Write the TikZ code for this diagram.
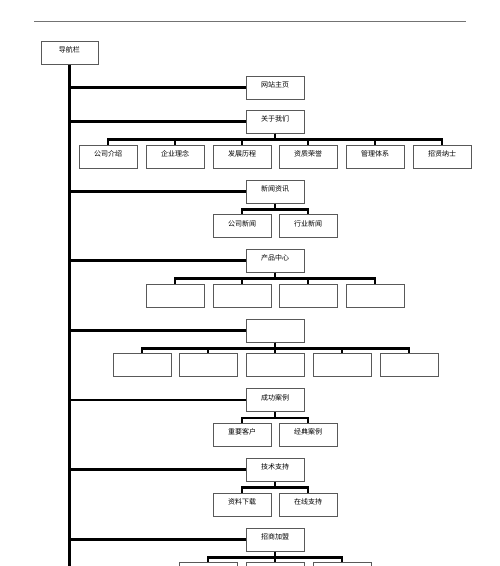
\documentclass[tikz,border=0pt]{standalone}
\usepackage{fontspec}
\newfontfamily\cjk{Noto Sans CJK SC}
\usetikzlibrary{positioning}
\tikzset{
  navbox/.style={draw=black!65, line width=1pt, minimum width=58pt, inner sep=1.5pt,
    text height=10pt, text depth=10pt, font=\cjk\fontsize{7}{8}\selectfont},
  link/.style={line width=2.2pt}
}

\begin{document}
\begin{tikzpicture}[x=1pt,y=-1pt]
\useasboundingbox (0,0) rectangle (500,566);

% rule at the top of the page
\draw[black!55, line width=0.9pt] (34,21.7) -- (466,21.7);

% navigation bar and trunk
\node[navbox, minimum width=57pt] (nav) at (69.5,52.5) {导航栏};
\coordinate (trunkend) at (69.5,570);
\draw[link] (nav.south) -- (trunkend);

% main entries
\foreach \name/\y/\descr in {home/87.5/网站主页, about/121.5/关于我们, news/191.5/新闻资讯,
  prod/260.5/产品中心, blank/330.5/{}, case/400/成功案例, tech/469.5/技术支持, join/539.5/招商加盟}
{
\node[navbox] (\name) at (275,\y) {\descr};
\draw[link] (\name.west) -- (\name.west -| nav.south);
}

% about
\foreach \x/\descr [count=\i] in {108/公司介绍, 175/企业理念, 242/发展历程, 308/资质荣誉, 375/管理体系, 442/招贤纳士}
{
\node[navbox] (about\i) at (\x,156.5) {\descr};
\draw[link] (about.south) -- ++(0,6) -| (about\i.north);
}

% news
\foreach \x/\descr [count=\i] in {242/公司新闻, 308/行业新闻}
{
\node[navbox] (news\i) at (\x,226) {\descr};
\draw[link] (news.south) -- ++(0,6) -| (news\i.north);
}

% products
\foreach \x [count=\i] in {175,242,308,375}
{
\node[navbox] (prod\i) at (\x,295.5) {};
\draw[link] (prod.south) -- ++(0,6) -| (prod\i.north);
}

% blank entry
\foreach \x [count=\i] in {142,208,275,342,409}
{
\node[navbox] (blank\i) at (\x,365) {};
\draw[link] (blank.south) -- ++(0,6) -| (blank\i.north);
}

% cases
\foreach \x/\descr [count=\i] in {242/重要客户, 308/经典案例}
{
\node[navbox] (case\i) at (\x,434.5) {\descr};
\draw[link] (case.south) -- ++(0,6) -| (case\i.north);
}

% support
\foreach \x/\descr [count=\i] in {242/资料下载, 308/在线支持}
{
\node[navbox] (tech\i) at (\x,504.5) {\descr};
\draw[link] (tech.south) -- ++(0,6) -| (tech\i.north);
}

% franchise (cut off by the page)
\foreach \x [count=\i] in {208,275,342}
{
\node[navbox] (join\i) at (\x,574) {};
\draw[link] (join.south) -- ++(0,6) -| (join\i.north);
}
\end{tikzpicture}
\end{document}
